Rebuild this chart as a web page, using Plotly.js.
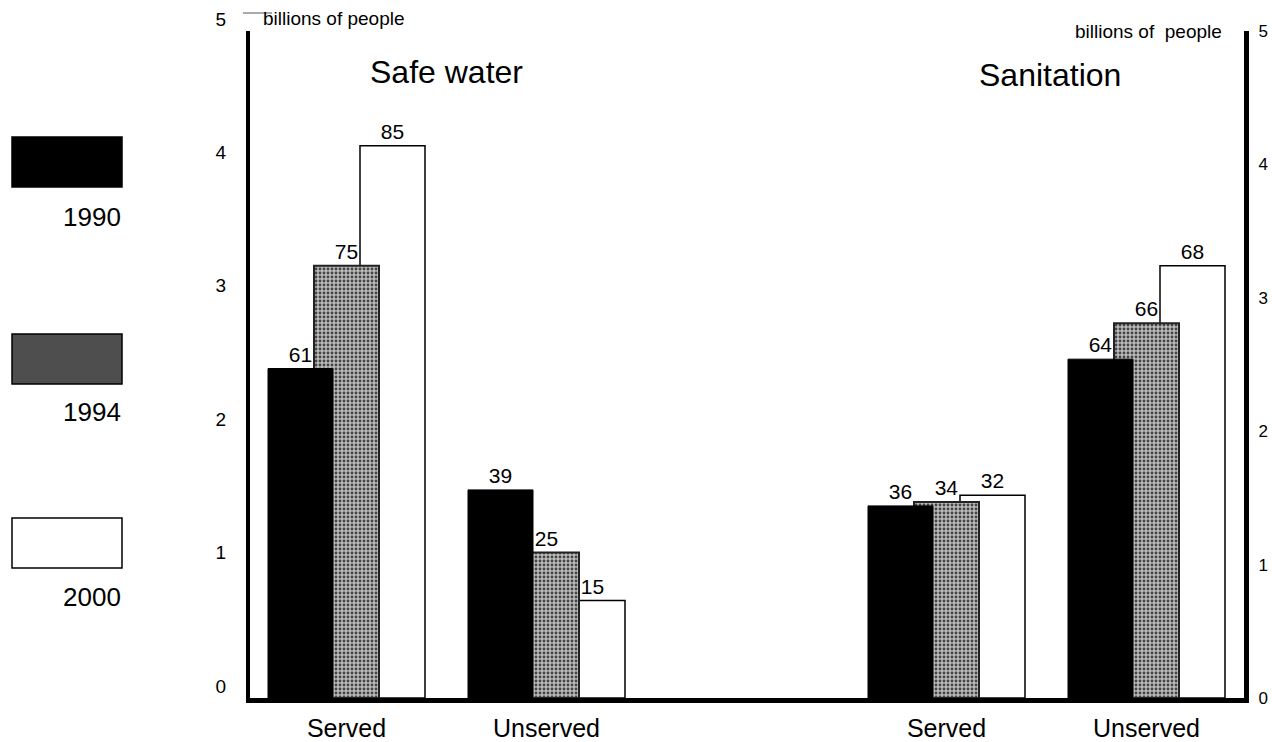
<!DOCTYPE html>
<html>
<head>
<meta charset="utf-8">
<script src="https://cdn.plot.ly/plotly-3.0.1.min.js"></script>
<style>html,body{margin:0;padding:0;background:#fff;}#chart{width:1272px;height:742px;}</style>
</head>
<body>
<div id="chart"></div>
<script>
// ---- data ----
const years = ['1990', '1994', '2000'];
const sections = ['Safe water', 'Sanitation'];
const groups = ['Served', 'Unserved', 'Served', 'Unserved'];
const billions1990 = [2.47, 1.56, 1.44, 2.54];
const billions1994 = [3.24, 1.09, 1.47, 2.81];
const billions2000 = [4.14, 0.73, 1.52, 3.24];
const pct1990 = [61, 39, 36, 64];
const pct1994 = [75, 25, 34, 66];
const pct2000 = [85, 15, 32, 68];
const yTicks = [0, 1, 2, 3, 4, 5];

// ---- layout geometry ----
const W = 1272, H = 742;
const L = 250, R = 28, T = 31, B = 44;
const PW = W - L - R, PH = H - T - B;
const px2x = p => (p - L) / PW;
const py2y = p => (T + PH - p) / PH;
const FONT = 'Liberation Sans, Arial, Helvetica, sans-serif';

// group positions: a gap between the two sections
const gx = groups.map((g, i) => i + (i >= 2 ? 1 : 0));
const barW = 0.325, step = 0.23;

function trace(vals, pcts, k, marker) {
  return {
    type: 'bar', x: gx, y: vals,
    width: barW, offset: (k - 1) * step - barW / 2,
    text: pcts.map(String), textposition: 'outside',
    textfont: {family: FONT, size: 21, color: '#000'},
    cliponaxis: false, marker: marker, hoverinfo: 'skip', showlegend: false
  };
}

const data = [
  trace(billions2000, pct2000, 2, {color: '#ffffff', line: {color: '#000', width: 1.5}}),
  trace(billions1994, pct1994, 1, {color: '#a8a8a8', line: {color: '#222', width: 2},
      pattern: {shape: '.', fgcolor: '#444', bgcolor: '#bcbcbc', size: 4, solidity: 0.4}}),
  trace(billions1990, pct1990, 0, {color: '#000000', line: {color: '#000', width: 1}}),
  {type: 'scatter', x: [gx[0]], y: [0], yaxis: 'y2', mode: 'markers',
   marker: {opacity: 0}, hoverinfo: 'skip', showlegend: false}
];

// legend drawn to the left
const legendFills = ['#000000', '#4e4e4e', '#ffffff'];
const legendTop = [137, 334, 518];
const legendLabelY = [217, 412, 597];
const shapes = [];
const annotations = [];
years.forEach((yr, i) => {
  shapes.push({type: 'rect', xref: 'paper', yref: 'paper',
    x0: px2x(12), x1: px2x(122), y0: py2y(legendTop[i] + 50), y1: py2y(legendTop[i]),
    fillcolor: legendFills[i], line: {color: '#000', width: 1.5}});
  annotations.push({xref: 'paper', yref: 'paper', x: px2x(123), y: py2y(legendLabelY[i]),
    xanchor: 'right', yanchor: 'middle', showarrow: false, text: yr,
    font: {family: FONT, size: 26, color: '#000'}});
});
// short rule beside the left "5"
shapes.push({type: 'line', xref: 'paper', yref: 'paper', x0: px2x(243), x1: px2x(272),
  y0: py2y(13), y1: py2y(13), line: {color: '#555', width: 1}});

// section titles and unit labels
annotations.push({xref: 'paper', yref: 'paper', x: px2x(446), y: py2y(72), xanchor: 'center', yanchor: 'middle',
  showarrow: false, text: sections[0], font: {family: FONT, size: 32, color: '#000'}});
annotations.push({xref: 'paper', yref: 'paper', x: px2x(1050), y: py2y(75), xanchor: 'center', yanchor: 'middle',
  showarrow: false, text: sections[1], font: {family: FONT, size: 32, color: '#000'}});
annotations.push({xref: 'paper', yref: 'paper', x: px2x(261), y: py2y(19), xanchor: 'left', yanchor: 'middle',
  showarrow: false, text: 'billions of people', font: {family: FONT, size: 19, color: '#000'}});
annotations.push({xref: 'paper', yref: 'paper', x: px2x(1224), y: py2y(31), xanchor: 'right', yanchor: 'middle',
  showarrow: false, text: 'billions of&nbsp; people', font: {family: FONT, size: 19, color: '#000'}});

const layout = {
  width: W, height: H,
  margin: {l: L, r: R, t: T, b: B, pad: 0},
  paper_bgcolor: '#fff', plot_bgcolor: '#fff',
  barmode: 'overlay',
  font: {family: FONT, color: '#000'},
  xaxis: {
    range: [(L - 346.5) / 200, (W - R - 346.5) / 200],
    tickvals: gx, ticktext: groups,
    showgrid: false, zeroline: false, showline: true, linecolor: '#000', linewidth: 5,
    ticks: '', tickfont: {family: FONT, size: 25, color: '#000'}, ticklabelstandoff: 4, fixedrange: true
  },
  yaxis: {
    range: [0, 5], tickvals: yTicks, showgrid: false, zeroline: false,
    showline: true, linecolor: '#000', linewidth: 4, ticks: '',
    tickfont: {family: FONT, size: 19, color: '#000'}, ticklabelstandoff: 16, ticklabelshift: -12
  },
  yaxis2: {
    range: [0, 5], tickvals: yTicks, overlaying: 'y', side: 'right', showgrid: false, zeroline: false,
    showline: true, linecolor: '#000', linewidth: 5, ticks: '',
    tickfont: {family: FONT, size: 17, color: '#000'}, ticklabelstandoff: 6
  },
  shapes: shapes,
  annotations: annotations
};

Plotly.newPlot('chart', data, layout, {staticPlot: true, displayModeBar: false});
</script>
</body>
</html>
